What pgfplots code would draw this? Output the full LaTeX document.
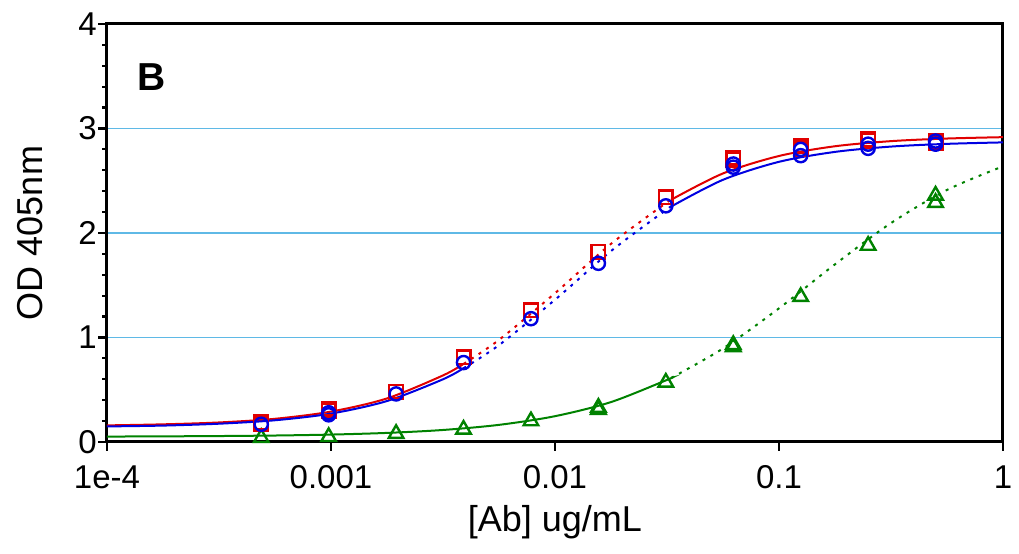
\documentclass[border=0pt]{standalone}
\usepackage{fontspec}
\setmainfont{Liberation Sans}
\usepackage{pgfplots}
\pgfplotsset{compat=1.18}

\definecolor{gridblue}{RGB}{95,185,230}
\definecolor{cred}{RGB}{225,0,0}
\definecolor{cblue}{RGB}{0,0,225}
\definecolor{cgreen}{RGB}{0,130,0}

\begin{document}
\begin{tikzpicture}
\begin{axis}[
    scale only axis,
    width=448pt, height=209pt,
    xmode=log,
    xmin=1e-4, xmax=1,
    ymin=0, ymax=4,
    xtick={1e-4,1e-3,1e-2,1e-1,1},
    xticklabels={1e-4,0.001,0.01,0.1,1},
    xminorticks=false,
    ytick={0,1,2,3,4},
    minor y tick num=4,
    xtick pos=bottom, ytick pos=left,
    tick align=outside,
    major tick length=4.5pt, minor tick length=2.5pt,
    every tick/.style={black, line width=1.1pt},
    axis line style={line width=1.5pt},
    ymajorgrids=true,
    major grid style={gridblue, line width=0.9pt},
    /pgf/number format/assume math mode=true,
    ticklabel style={font=\fontsize{16.5}{19}\selectfont},
    xticklabel style={inner sep=0pt, anchor=north, yshift=-7pt},
    yticklabel style={inner sep=0pt, anchor=east, xshift=-0.5pt},
    xlabel={[Ab] ug/mL},
    ylabel={OD 405nm},
    label style={font=\fontsize{18}{21}\selectfont},
    xlabel style={at={(axis description cs:0.5,0)}, anchor=center, yshift=-40pt},
    ylabel style={at={(axis description cs:-0.086,0.5)}, anchor=center, rotate=0},
]

% fitted curves
\addplot[cred, line width=1pt, smooth] coordinates {
(1e-4,0.159) (1.778e-4,0.169) (3.162e-4,0.187) (5.623e-4,0.222) (1e-3,0.291)
(1.778e-3,0.417) (3.162e-3,0.637) (3.906e-3,0.747)};
\addplot[cred, line width=1pt, smooth, dash pattern=on 1.5pt off 3pt] coordinates {
(3.906e-3,0.747) (5.623e-3,0.977) (0.01,1.424) (0.01778,1.896) (0.03162,2.293) (0.033,2.318)};
\addplot[cred, line width=1pt, smooth] coordinates {
(0.033,2.318) (0.05623,2.570) (0.1,2.737) (0.1778,2.830) (0.3162,2.879) (0.5623,2.904) (1,2.917)};

\addplot[cblue, line width=1pt, smooth] coordinates {
(1e-4,0.149) (1.778e-4,0.157) (3.162e-4,0.175) (5.623e-4,0.208) (1e-3,0.272)
(1.778e-3,0.392) (3.162e-3,0.600) (3.906e-3,0.706)};
\addplot[cblue, line width=1pt, smooth, dash pattern=on 1.5pt off 3pt] coordinates {
(3.906e-3,0.706) (5.623e-3,0.927) (0.01,1.361) (0.01778,1.827) (0.03162,2.227) (0.033,2.253)};
\addplot[cblue, line width=1pt, smooth] coordinates {
(0.033,2.253) (0.05623,2.509) (0.1,2.681) (0.1778,2.776) (0.3162,2.827) (0.5623,2.853) (1,2.867)};

\addplot[cgreen, line width=1pt, smooth] coordinates {
(1e-4,0.052) (1.778e-4,0.054) (3.162e-4,0.057) (5.623e-4,0.062) (1e-3,0.071)
(1.778e-3,0.087) (3.162e-3,0.115) (5.623e-3,0.164) (0.01,0.247) (0.01778,0.382)
(0.03162,0.594) (0.033,0.613)};
\addplot[cgreen, line width=1pt, smooth, dash pattern=on 1.5pt off 3pt] coordinates {
(0.033,0.613) (0.05623,0.895) (0.1,1.279) (0.1778,1.700) (0.3162,2.095) (0.5623,2.412) (1,2.638)};

% measured points
\addplot[only marks, mark=triangle, mark size=4.2pt, cgreen, line width=1.2pt] coordinates {
(0.00048828,0.04) (0.00097656,0.05) (0.0019531,0.08) (0.0039063,0.12)
(0.0078125,0.20) (0.015625,0.33) (0.015625,0.31) (0.03125,0.57)
(0.0625,0.93) (0.0625,0.91) (0.125,1.39) (0.25,1.88) (0.5,2.36) (0.5,2.29)};
\addplot[only marks, mark=square, mark size=3.4pt, cred, line width=1.2pt] coordinates {
(0.00048828,0.19) (0.00048828,0.17) (0.00097656,0.32) (0.00097656,0.30)
(0.0019531,0.48) (0.0039063,0.81) (0.0078125,1.26) (0.015625,1.82)
(0.03125,2.34) (0.0625,2.72) (0.0625,2.70) (0.125,2.83) (0.125,2.80)
(0.25,2.90) (0.25,2.88) (0.5,2.88) (0.5,2.86)};
\addplot[only marks, mark=o, mark size=3.3pt, cblue, line width=1.2pt] coordinates {
(0.00048828,0.17) (0.00097656,0.28) (0.00097656,0.26) (0.0019531,0.46)
(0.0039063,0.76) (0.0078125,1.18) (0.015625,1.71) (0.03125,2.26)
(0.0625,2.66) (0.0625,2.63) (0.125,2.80) (0.125,2.74)
(0.25,2.85) (0.25,2.81) (0.5,2.88) (0.5,2.85)};

\node[anchor=west, inner sep=0pt, font=\bfseries\fontsize{19.5}{22}\selectfont]
    at (axis description cs:0.0335,0.873) {B};
\end{axis}
\path (current axis.south west) ++(-53.5pt,-56pt) (current axis.north east) ++(8pt,12pt);
\end{tikzpicture}
\end{document}
